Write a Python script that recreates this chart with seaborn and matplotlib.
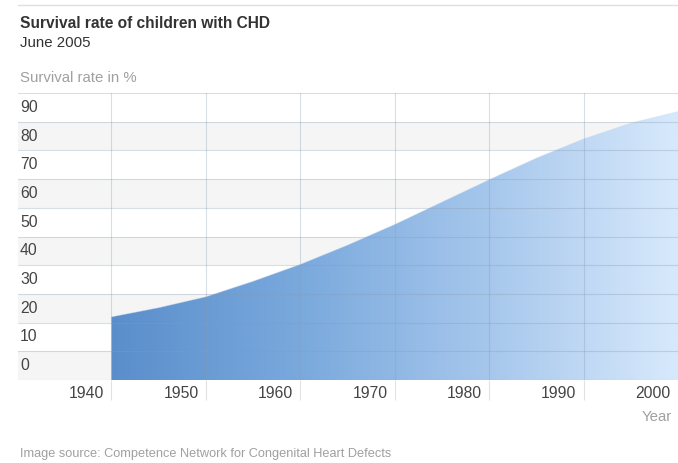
import numpy as np
import pandas as pd
import seaborn as sns
import matplotlib
matplotlib.use("Agg")
import matplotlib.pyplot as plt
from matplotlib.colors import LinearSegmentedColormap
from matplotlib.transforms import ScaledTranslation
from matplotlib.lines import Line2D

# ---- data ----
years = [1940, 1945, 1950, 1955, 1960, 1965, 1970, 1975, 1980, 1985, 1990, 1995, 2000]
survival = [22.0, 25.2, 29.0, 34.4, 40.3, 47.0, 54.2, 62.0, 69.8, 77.3, 84.0, 89.5, 93.5]
x_ticks = [1940, 1950, 1960, 1970, 1980, 1990, 2000]
y_ticks = [0, 10, 20, 30, 40, 50, 60, 70, 80, 90]

title = "Survival rate of children with CHD"
subtitle = "June 2005"
y_title = "Survival rate in %"
x_title = "Year"
source = "Image source: Competence Network for Congenital Heart Defects"

df = pd.DataFrame({"year": years, "survival": survival})

sns.set_theme(style="white")
plt.rcParams["font.family"] = ["Liberation Sans", "DejaVu Sans"]

W, H = 678, 463
fig = plt.figure(figsize=(W / 100, H / 100), dpi=100)
ax = fig.add_axes([18 / W, 1 - 380 / H, (678 - 18) / W, (380 - 93) / H])

x0, x1 = 1930.1, 2000.0
y0, y1 = 0, 100

# banded background
for v in range(0, 100, 20):
    ax.axhspan(v, v + 10, color="#f5f5f5", zorder=0, lw=0)

# gradient area
cmap = LinearSegmentedColormap.from_list(
    "g", ["#5a8ecb", "#7aa9dd", "#a6c7ec", "#d8e9fc"])
grad = np.linspace(0, 1, 512).reshape(1, -1)
img = ax.imshow(grad, extent=[years[0], years[-1], 0, 100], aspect="auto",
                cmap=cmap, origin="lower", zorder=1, interpolation="bicubic")
poly = ax.fill_between(df["year"], 0, df["survival"], color="none", lw=0, zorder=1)
clip = poly.get_paths()[0]
img.set_clip_path(clip, transform=ax.transData)
sns.lineplot(data=df, x="year", y="survival", ax=ax, color="#c9dcf0", lw=0.6,
             alpha=0.5, zorder=2)
ax.set_xlim(x0, x1)
ax.set_ylim(y0, y1)

# grid lines
for v in range(0, 101, 10):
    ax.axhline(v, color="#8a9bb0", lw=0.8, alpha=0.33, zorder=3)
for xv in x_ticks:
    ax.axvline(xv, color="#8a9bb0", lw=0.8, alpha=0.33, zorder=3)

for s in ax.spines.values():
    s.set_visible(False)

# x ticks: labels left of grid line
ax.set_xticks(x_ticks)
ax.set_xticklabels([str(v) for v in x_ticks])
ax.tick_params(axis="x", bottom=True, length=14.4, width=0.8, color="#e2e2e2",
               pad=-5.0, labelsize=11.3, labelcolor="#444444", direction="out")
off = ScaledTranslation(-7 / 100, 0, fig.dpi_scale_trans)
for lab in ax.get_xticklabels():
    lab.set_ha("right")
    lab.set_va("center")
    lab.set_transform(lab.get_transform() + off)
ax.set_xlabel("")

# y labels inside, above each grid line
ax.set_yticks([])
ax.set_ylabel("")
for v in y_ticks:
    ax.text(2 / (678 - 18), v + 5, str(v), transform=ax.get_yaxis_transform(),
            ha="left", va="center", fontsize=11.3, color="#444444", zorder=4)

# titles and notes
fig.text(20 / W, 1 - 24 / H, title, fontsize=11.2, fontweight="bold",
         color="#333333", ha="left", va="center")
fig.text(20 / W, 1 - 43 / H, subtitle, fontsize=10.8, color="#333333",
         ha="left", va="center")
fig.text(20 / W, 1 - 78 / H, y_title, fontsize=10.8, color="#a0a0a0",
         ha="left", va="center")
fig.text(672 / W, 1 - 417 / H, x_title, fontsize=10.8, color="#a0a0a0",
         ha="right", va="center")
fig.text(20 / W, 1 - 454 / H, source, fontsize=9.2, color="#a0a0a0",
         ha="left", va="center")
fig.add_artist(Line2D([18 / W, 1.0], [1 - 5 / H, 1 - 5 / H], color="#e0e0e0",
                      lw=1.0, transform=fig.transFigure))

fig.savefig("out.png", dpi=100)
